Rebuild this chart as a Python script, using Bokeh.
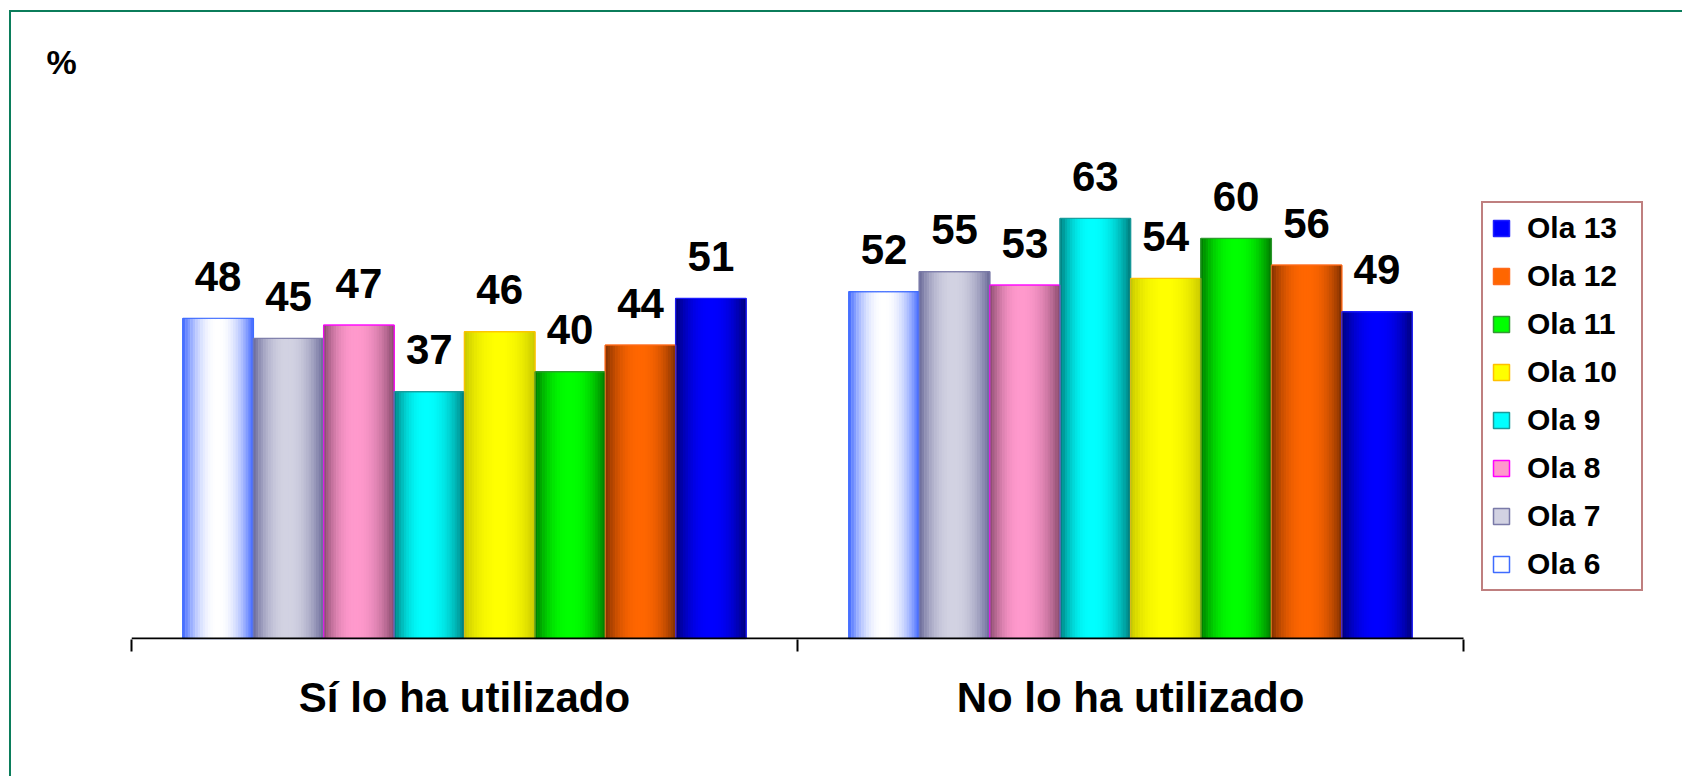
from bokeh.plotting import figure
from bokeh.models import (Range1d, LinearAxis, FixedTicker, Legend, LegendItem,
                          ColumnDataSource)
from bokeh.core.properties import value
from bokeh.embed import file_html
from bokeh.resources import INLINE

# ---------------- data ----------------
categories = ["Sí lo ha utilizado", "No lo ha utilizado"]
series = ["Ola 6", "Ola 7", "Ola 8", "Ola 9", "Ola 10", "Ola 11", "Ola 12", "Ola 13"]
ola6 = [48, 52]
ola7 = [45, 55]
ola8 = [47, 53]
ola9 = [37, 63]
ola10 = [46, 54]
ola11 = [40, 60]
ola12 = [44, 56]
ola13 = [51, 49]
values = [ola6, ola7, ola8, ola9, ola10, ola11, ola12, ola13]
y_unit_label = "%"

# ---------------- styles ----------------
edge_colors = ["#3f66ff", "#686898", "#874a6c", "#007b7b", "#c8c800", "#007800", "#803000", "#000078"]
center_colors = ["#ffffff", "#d2d2e2", "#ff99cc", "#00ffff", "#ffff00", "#00ff00", "#ff6600", "#0000ff"]
outline_colors = ["#3f6bff", "#7a7aa8", "#ff00ff", "#1a9a9a", "#ffc000", "#339933", "#ff6a1a", "#2020ff"]
peaks = [0.5, 0.48, 0.45, 0.45, 0.5, 0.5, 0.5, 0.5]
FONT = "Liberation Sans"
BAR_W = 0.1057
N_STRIPS = 28
X_END = 2.3318   # extra room right of the categories for the legend


def hex2rgb(h):
    h = h.lstrip("#")
    return tuple(int(h[k:k + 2], 16) for k in (0, 2, 4))


def mix(a, b, t):
    ra, rb = hex2rgb(a), hex2rgb(b)
    return "#%02x%02x%02x" % tuple(int(round(ra[k] + (rb[k] - ra[k]) * t)) for k in range(3))


def shade(edge, center, u, peak):
    t = u / peak if u < peak else (1 - u) / (1 - peak)
    t = 1 - (1 - t) ** 2.2
    return mix(edge, center, t)


p = figure(width=1673, height=766, x_range=Range1d(0, X_END), y_range=Range1d(-0.15, 82.2),
           output_backend="svg", toolbar_location=None,
           x_axis_location=None, y_axis_location=None,
           min_border_left=120, min_border_right=0, min_border_top=78, min_border_bottom=139)
p.outline_line_color = None
p.xgrid.visible = False
p.ygrid.visible = False
p.background_fill_color = "white"
p.border_fill_color = "white"
p.styles = {"margin-left": "9px", "margin-top": "10px",
            "border-top": "2px solid #0b7d5b", "border-left": "2px solid #0b7d5b"}

p.title.text = y_unit_label
p.title.align = "left"
p.title.offset = -85
p.title.text_font = FONT
p.title.text_font_style = "bold"
p.title.text_font_size = "34px"
p.title.text_color = "black"
p.title.standoff = 19

n = len(series)
base_renderers = []
sx, stop, sw, scol = [], [], [], []
lx, ly, lt = [], [], []
for i, (name, vals) in enumerate(zip(series, values)):
    xs = [c + 0.5 + (i - (n - 1) / 2) * BAR_W for c in range(len(categories))]
    r = p.vbar(x=xs, top=vals, width=BAR_W, bottom=0,
               fill_color=center_colors[i], line_color=outline_colors[i], line_width=1.5)
    base_renderers.append(r)
    for xc, v in zip(xs, vals):
        for j in range(N_STRIPS):
            u = (j + 0.5) / N_STRIPS
            sx.append(xc + (u - 0.5) * BAR_W)
            stop.append(v)
            sw.append(BAR_W / N_STRIPS * 1.15)
            scol.append(shade(edge_colors[i], center_colors[i], u, peaks[i]))
        lx.append(xc)
        ly.append(v)
        lt.append(str(v))

strips = ColumnDataSource(dict(x=sx, top=stop, w=sw, c=scol))
p.vbar(x="x", top="top", width="w", bottom=0, fill_color="c", line_color=None, source=strips)

for i, vals in enumerate(values):
    xs = [c + 0.5 + (i - (n - 1) / 2) * BAR_W for c in range(len(categories))]
    p.vbar(x=xs, top=vals, width=BAR_W, bottom=0, fill_color=None,
           line_color=outline_colors[i], line_width=1.2, line_alpha=0.8)

p.text(x=lx, y=ly, text=lt, text_font=value(FONT), text_font_style="bold",
       text_font_size="42px", text_color="black", text_align="center",
       text_baseline="alphabetic", y_offset=-42)

# category baseline from the first to the last category boundary
p.segment(x0=[0], y0=[0], x1=[len(categories)], y1=[0], line_color="black", line_width=2)

# axis: category labels at centres, tick marks at category boundaries
axis = LinearAxis(ticker=FixedTicker(ticks=[0.5, 1.5], minor_ticks=[0, 1, 2]),
                  major_label_overrides={0.5: categories[0], 1.5: categories[1]})
axis.axis_line_color = None
axis.major_tick_line_color = None
axis.major_tick_out = 0
axis.major_tick_in = 0
axis.minor_tick_line_color = "black"
axis.minor_tick_line_width = 2
axis.minor_tick_out = 12
axis.minor_tick_in = 0
axis.major_label_text_font = FONT
axis.major_label_text_font_style = "bold"
axis.major_label_text_font_size = "42px"
axis.major_label_text_color = "black"
axis.major_label_standoff = 22
p.add_layout(axis, "below")

items = [LegendItem(label=series[i], renderers=[base_renderers[i]]) for i in reversed(range(n))]
legend = Legend(items=items, location=(1350, 48), orientation="vertical",
                border_line_color="#800000", border_line_width=2,
                background_fill_color="white", background_fill_alpha=1,
                padding=8, spacing=14, margin=0,
                glyph_width=20, glyph_height=20, label_standoff=16, label_width=106,
                label_text_font=FONT, label_text_font_style="bold",
                label_text_font_size="30px", label_text_color="black")
p.add_layout(legend)

html = file_html(p, INLINE)
html = html.replace("</head>", "<style>html, body { overflow: hidden; }</style>\n</head>", 1)
open("out.html", "w").write(html)
